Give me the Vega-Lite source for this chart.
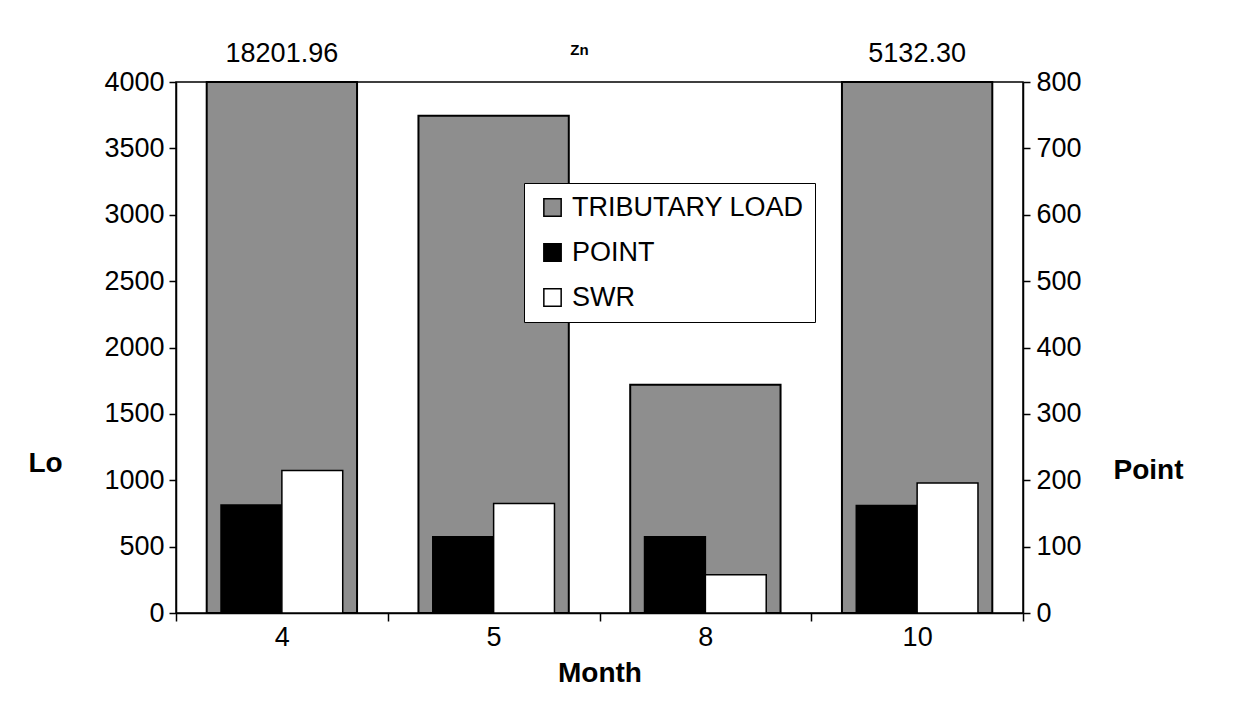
{
  "$schema": "https://vega.github.io/schema/vega-lite/v6.json",
  "width": 847,
  "height": 531,
  "autosize": {"type": "none"},
  "padding": {"left": 176, "top": 82, "right": 210, "bottom": 110},
  "background": "white",
  "title": {
    "text": "Zn",
    "fontSize": 15,
    "fontWeight": "bold",
    "font": "Liberation Sans",
    "color": "black",
    "frame": "group",
    "anchor": "middle",
    "dx": -20,
    "dy": 44,
    "offset": 26
  },
  "config": {
    "font": "Liberation Sans",
    "view": {"stroke": "black", "strokeWidth": 1.5},
    "axis": {
      "grid": false,
      "domainColor": "black",
      "domainWidth": 1.5,
      "tickColor": "black",
      "tickWidth": 1.5,
      "tickSize": 7,
      "labelColor": "black",
      "labelFont": "Liberation Sans",
      "labelFontSize": 27,
      "titleColor": "black",
      "titleFont": "Liberation Sans",
      "titleFontSize": 28,
      "titleFontWeight": "bold"
    },
    "legend": {
      "orient": "none",
      "legendX": 348,
      "legendY": 101,
      "fillColor": "white",
      "strokeColor": "black",
      "padding": 11,
      "rowPadding": 17,
      "symbolType": "square",
      "symbolSize": 300,
      "symbolStrokeColor": "black",
      "symbolStrokeWidth": 1.5,
      "symbolOffset": 4,
      "labelFont": "Liberation Sans",
      "labelFontSize": 27,
      "labelColor": "black",
      "labelLimit": 400,
      "labelOffset": 6
    }
  },
  "data": {
    "values": [
      {"Month": 4, "Series": "TRIBUTARY LOAD", "Value": 18201.96},
      {"Month": 5, "Series": "TRIBUTARY LOAD", "Value": 3745},
      {"Month": 8, "Series": "TRIBUTARY LOAD", "Value": 1720},
      {"Month": 10, "Series": "TRIBUTARY LOAD", "Value": 5132.30},
      {"Month": 4, "Series": "POINT", "Value": 162.6},
      {"Month": 5, "Series": "POINT", "Value": 115},
      {"Month": 8, "Series": "POINT", "Value": 115},
      {"Month": 10, "Series": "POINT", "Value": 162},
      {"Month": 4, "Series": "SWR", "Value": 214.6},
      {"Month": 5, "Series": "SWR", "Value": 165},
      {"Month": 8, "Series": "SWR", "Value": 57.5},
      {"Month": 10, "Series": "SWR", "Value": 196}
    ]
  },
  "encoding": {
    "x": {
      "field": "Month",
      "type": "ordinal",
      "sort": [4, 5, 8, 10],
      "scale": {"paddingInner": 0, "paddingOuter": 0},
      "axis": {
        "title": "Month",
        "labelAngle": 0,
        "tickBand": "extent",
        "tickSize": 8,
        "labelPadding": 3,
        "titlePadding": 9
      }
    }
  },
  "layer": [
    {
      "transform": [{"filter": "datum.Series === 'TRIBUTARY LOAD'"}],
      "encoding": {
        "y": {
          "field": "Value",
          "type": "quantitative",
          "scale": {"domain": [0, 4000], "nice": false, "clamp": true},
          "axis": {
            "orient": "left",
            "values": [0, 500, 1000, 1500, 2000, 2500, 3000, 3500, 4000],
            "format": "d",
            "labelPadding": 5,
            "title": "Lo",
            "titleAngle": 0,
            "titleAlign": "left",
            "titleBaseline": "middle",
            "titleX": -148,
            "titleY": 381
          }
        }
      },
      "layer": [
        {
          "mark": {"type": "bar", "width": {"band": 0.71}, "stroke": "black", "strokeWidth": 2},
          "encoding": {
            "color": {
              "field": "Series",
              "type": "nominal",
              "title": null,
              "scale": {
                "domain": ["TRIBUTARY LOAD", "POINT", "SWR"],
                "range": ["#8e8e8e", "#000000", "#ffffff"]
              }
            }
          }
        },
        {
          "transform": [{"filter": "datum.Value > 4000"}],
          "mark": {
            "type": "text",
            "baseline": "alphabetic",
            "dy": -20,
            "fontSize": 27,
            "font": "Liberation Sans",
            "color": "black"
          },
          "encoding": {
            "text": {"field": "Value", "type": "quantitative", "format": ".2f"}
          }
        }
      ]
    },
    {
      "transform": [{"filter": "datum.Series !== 'TRIBUTARY LOAD'"}],
      "mark": {"type": "bar", "stroke": "black", "strokeWidth": 1.5},
      "encoding": {
        "y": {
          "field": "Value",
          "type": "quantitative",
          "scale": {"domain": [0, 800], "nice": false},
          "axis": {
            "orient": "right",
            "values": [0, 100, 200, 300, 400, 500, 600, 700, 800],
            "format": "d",
            "labelPadding": 6,
            "title": "Point",
            "titleAngle": 0,
            "titleAlign": "left",
            "titleBaseline": "middle",
            "titleX": 90,
            "titleY": 388
          }
        },
        "xOffset": {
          "field": "Series",
          "type": "nominal",
          "sort": ["POINT", "SWR"],
          "scale": {"paddingInner": 0, "paddingOuter": 0.74}
        },
        "color": {
          "field": "Series",
          "type": "nominal",
          "title": null
        }
      }
    }
  ],
  "resolve": {"scale": {"y": "independent"}}
}
